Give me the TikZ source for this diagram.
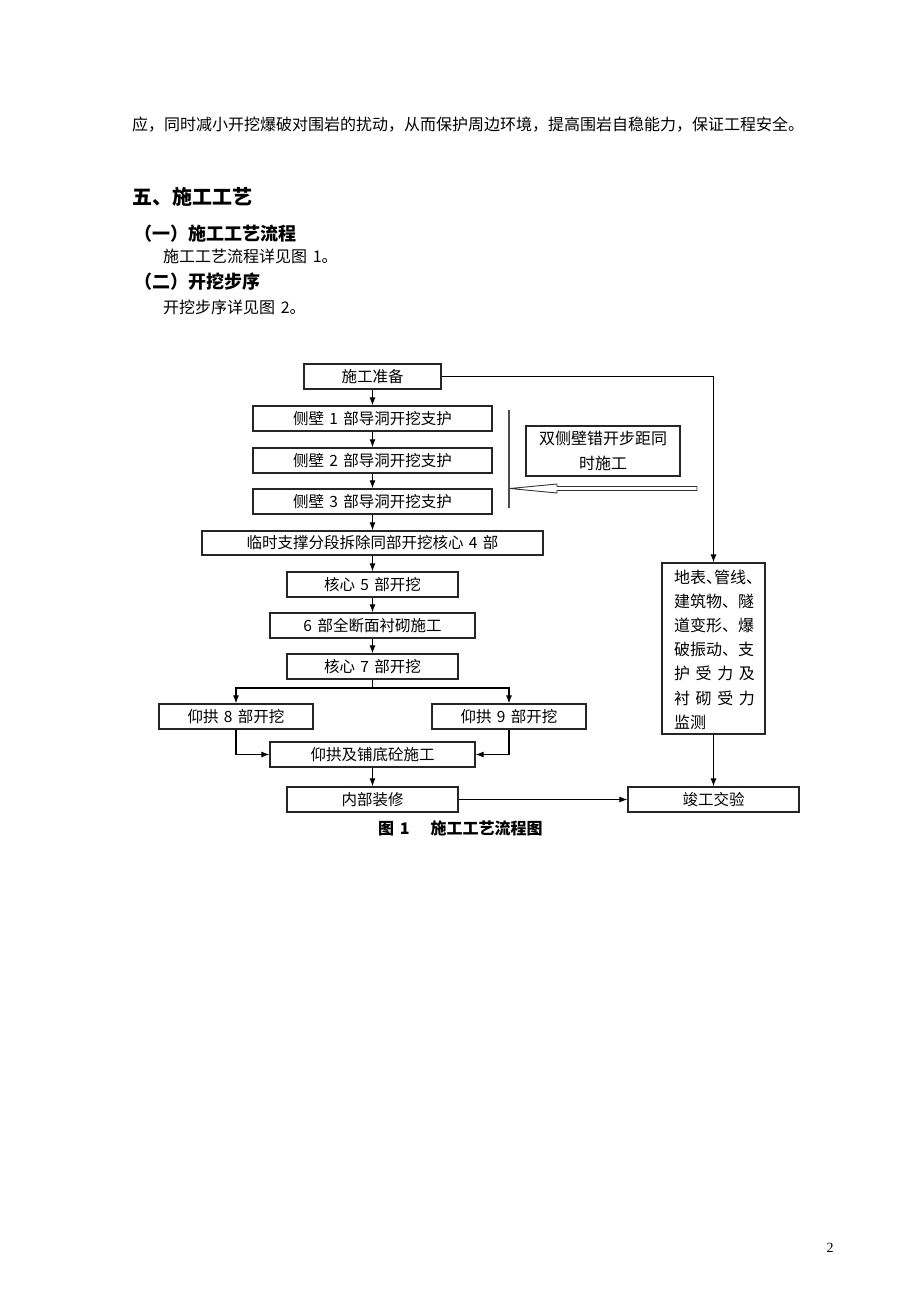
\documentclass[tikz,border=0pt]{standalone}
\usepackage{fontspec}
\setmainfont{Liberation Serif}
\newfontfamily\cjk{Noto Sans CJK SC}
\usetikzlibrary{arrows.meta}
\newcommand\dun{\makebox[0.5em][l]{、}}
\newcommand\gp{\hspace{0.35em}}
\newcommand\spreadline[1]{\leavevmode\hbox to 81pt{#1}}
\begin{document}
\begin{tikzpicture}[x=1pt,y=-1pt,
  box/.style={draw=black!85, line width=1.2pt, inner sep=0pt, minimum height=25pt, font=\cjk\fontsize{15.5}{18}\selectfont},
  conn/.style={line width=1.1pt, draw=black},
  arr/.style={conn, -{Latex[length=8pt,width=6pt]}},
  txt/.style={anchor=west, inner sep=0pt},
  body/.style={txt, font=\cjk\fontsize{16}{20}\selectfont},
]
\useasboundingbox (0,0) rectangle (920,1302);
\fill[white] (0,0) rectangle (920,1302);

% text above
\node[body] (t1) at (132,125) {应，同时减小开挖爆破对围岩的扰动，从而保护周边环境，提高围岩自稳能力，保证工程安全。};
\node[txt, font=\cjk\bfseries\fontsize{20}{24}\selectfont] (h1) at (132,197) {五、施工工艺};
\node[txt, font=\cjk\bfseries\fontsize{18}{22}\selectfont] (h2) at (134,234) {（一）施工工艺流程};
\node[body] (p1) at (163,256) {施工工艺流程详见图\gp 1。};
\node[txt, font=\cjk\bfseries\fontsize{18}{22}\selectfont] (h3) at (134,282) {（二）开挖步序};
\node[body] (p2) at (163,307) {开挖步序详见图\gp 2。};

% flowchart boxes
\node[box, minimum width=137] (prep) at (372.5,376.5) {施工准备};
\node[box, minimum width=239] (s1) at (372.5,418.5) {侧壁\gp 1\gp 部导洞开挖支护};
\node[box, minimum width=239] (s2) at (372.5,460.5) {侧壁\gp 2\gp 部导洞开挖支护};
\node[box, minimum width=239] (s3) at (372.5,501.5) {侧壁\gp 3\gp 部导洞开挖支护};
\node[box, minimum width=341, minimum height=24] (tmp) at (372.5,543) {临时支撑分段拆除同部开挖核心\gp 4\gp 部};
\node[box, minimum width=171] (c5) at (372.5,584.5) {核心\gp 5\gp 部开挖};
\node[box, minimum width=205] (q6) at (372.5,625.5) {6\gp 部全断面衬砌施工};
\node[box, minimum width=171] (c7) at (372.5,666.5) {核心\gp 7\gp 部开挖};
\node[box, minimum width=154] (y8) at (236,716.5) {仰拱\gp 8\gp 部开挖};
\node[box, minimum width=154] (y9) at (509,716.5) {仰拱\gp 9\gp 部开挖};
\node[box, minimum width=205] (yp) at (372.5,754.5) {仰拱及铺底砼施工};
\node[box, minimum width=171] (ns) at (372.5,799.5) {内部装修};
\node[box, minimum width=171] (jg) at (713.5,799.5) {竣工交验};
\node[box, minimum width=103, minimum height=171] (mon) at (713.5,648.5) {};
\node[inner sep=0pt, align=left, text width=81pt, font=\cjk\fontsize{16}{24.2}\selectfont] (montxt) at (714.5,649.5)
  {地表\dun 管线\dun\\建筑物、隧\\道变形、爆\\破振动、支\\\spreadline{护\hfill 受\hfill 力\hfill 及}\\\spreadline{衬\hfill 砌\hfill 受\hfill 力}\\监测};
\node[box, minimum width=154, minimum height=50, align=center, font=\cjk\fontsize{16}{25}\selectfont] (dual) at (603,451) {双侧壁错开步距同\\时施工};

% connectors
\draw[arr] (prep.south) -- (s1.north);
\draw[arr] (s1.south) -- (s2.north);
\draw[arr] (s2.south) -- (s3.north);
\draw[arr] (s3.south) -- (tmp.north);
\draw[arr] (tmp.south) -- (c5.north);
\draw[arr] (c5.south) -- (q6.north);
\draw[arr] (q6.south) -- (c7.north);
\coordinate (br) at (372.5,688);
\draw[conn] (c7.south) -- (br);
\draw[arr] (br) -| (y8.north);
\draw[arr] (br) -| (y9.north);
\draw[arr] (y8.south) |- (yp.west);
\draw[arr] (y9.south) |- (yp.east);
\draw[arr] (yp.south) -- (ns.north);
\draw[arr] (ns.east) -- (jg.west);
\draw[arr] (prep.east) -| (mon.north);
\draw[arr] (mon.south) -- (jg.north);

% bracket line and hollow arrow
\coordinate (vt) at (509,410);
\coordinate (vb) at (509,508);
\draw[line width=1.1pt, black!70] (vt) -- (vb);
\draw[line width=0.9pt, black!80] (697,486.5) -- (557,486.5) -- (557,484) -- (510,488.5) -- (557,493) -- (557,490.5) -- (697,490.5) -- cycle;

% caption and page number
\node[txt, font=\cjk\bfseries\fontsize{16}{20}\selectfont] (cap) at (378,828) {图\gp 1\hspace{21pt}施工工艺流程图};
\node[font=\fontsize{14}{16}\selectfont, inner sep=0pt] (pg) at (830,1248) {2};
\end{tikzpicture}
\end{document}
